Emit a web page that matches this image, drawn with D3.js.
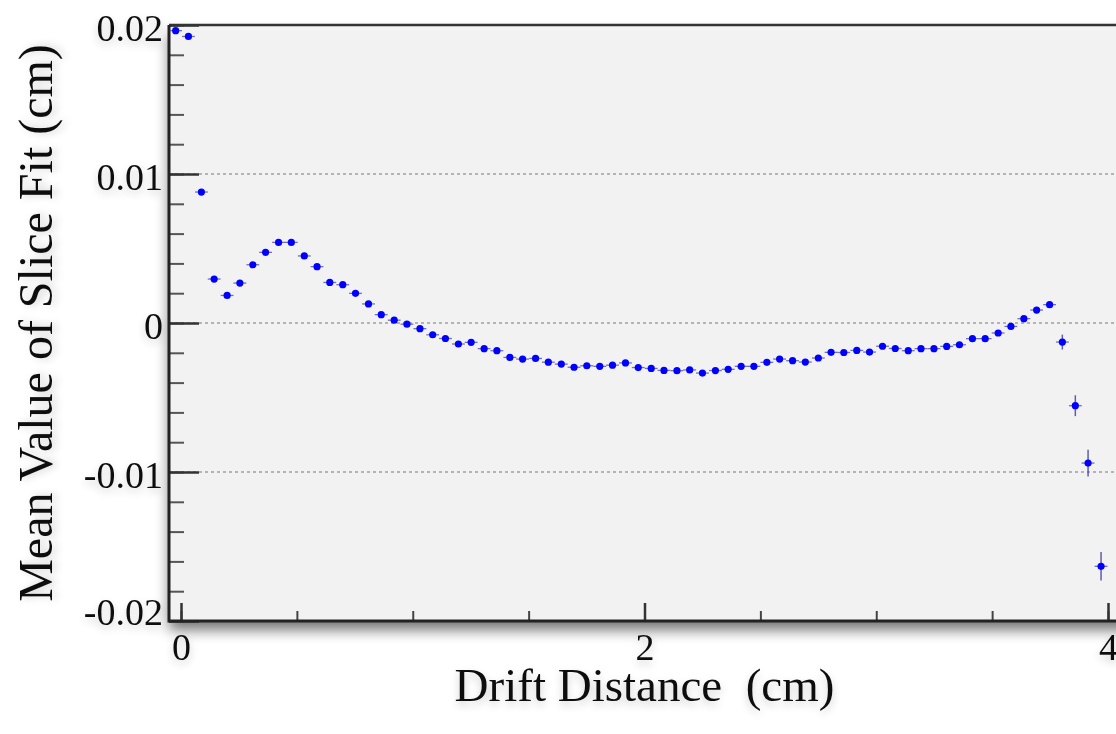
<!DOCTYPE html>
<html>
<head>
<meta charset="utf-8">
<script src="https://cdn.jsdelivr.net/npm/d3@7"></script>
<style>
  body { margin: 0; background: #fff; }
  svg { display: block; font-family: "Liberation Serif", "Times New Roman", serif; }
  .tick-label { font-size: 38px; fill: #111; }
  .axis-title { font-size: 47px; fill: #111; white-space: pre; }
  .grid { stroke: #a0a0a0; stroke-width: 1.5; stroke-dasharray: 3 3; }
</style>
</head>
<body>
<div id="wrapper"></div>
<script>
// bin centres (cm) and fitted slice means (cm)
const driftDistance = [
  -0.023, 0.032, 0.088, 0.143, 0.199, 0.254, 0.310, 0.365, 0.421, 0.476,
  0.532, 0.587, 0.642, 0.698, 0.753, 0.809, 0.864, 0.920, 0.975, 1.031,
  1.086, 1.141, 1.197, 1.252, 1.308, 1.363, 1.419, 1.474, 1.530, 1.585,
  1.641, 1.696, 1.751, 1.807, 1.862, 1.918, 1.973, 2.029, 2.084, 2.140,
  2.195, 2.250, 2.306, 2.361, 2.417, 2.472, 2.528, 2.583, 2.639, 2.694,
  2.750, 2.805, 2.860, 2.916, 2.971, 3.027, 3.082, 3.138, 3.193, 3.249,
  3.304, 3.359, 3.415, 3.470, 3.526, 3.581, 3.637, 3.692, 3.748, 3.803,
  3.859, 3.914, 3.970
]
const meanValue = [
  0.01962, 0.01923, 0.00879, 0.00295, 0.00185, 0.00268, 0.00391, 0.00474, 0.00541, 0.00541,
  0.00450, 0.00378, 0.00272, 0.00257, 0.00199, 0.00128, 0.00056, 0.00019, -0.00008, -0.00038,
  -0.00079, -0.00104, -0.00141, -0.00130, -0.00172, -0.00186, -0.00231, -0.00242, -0.00238, -0.00263,
  -0.00276, -0.00297, -0.00287, -0.00291, -0.00283, -0.00268, -0.00299, -0.00305, -0.00318, -0.00320,
  -0.00315, -0.00336, -0.00319, -0.00311, -0.00291, -0.00291, -0.00264, -0.00242, -0.00253, -0.00262,
  -0.00235, -0.00197, -0.00198, -0.00184, -0.00195, -0.00156, -0.00171, -0.00186, -0.00172, -0.00172,
  -0.00157, -0.00146, -0.00105, -0.00105, -0.00067, -0.00023, 0.00029, 0.00087, 0.00123, -0.00128,
  -0.00555, -0.00940, -0.01633
]
const meanError = [
  0.00008, 0.00008, 0.00006, 0.00004, 0.00004, 0.00004, 0.00004, 0.00004, 0.00004, 0.00004,
  0.00004, 0.00004, 0.00004, 0.00004, 0.00004, 0.00004, 0.00004, 0.00004, 0.00004, 0.00004,
  0.00004, 0.00004, 0.00004, 0.00004, 0.00004, 0.00004, 0.00004, 0.00004, 0.00004, 0.00004,
  0.00004, 0.00004, 0.00004, 0.00004, 0.00004, 0.00004, 0.00004, 0.00004, 0.00004, 0.00004,
  0.00004, 0.00004, 0.00004, 0.00004, 0.00004, 0.00004, 0.00004, 0.00004, 0.00004, 0.00004,
  0.00004, 0.00004, 0.00004, 0.00004, 0.00004, 0.00004, 0.00004, 0.00004, 0.00004, 0.00004,
  0.00004, 0.00006, 0.00006, 0.00006, 0.00008, 0.00008, 0.00010, 0.00015, 0.00020, 0.00050,
  0.00070, 0.00090, 0.00096
]
const binHalfWidth = 0.0277

const yTickValues = [-0.02, -0.01, 0, 0.01, 0.02]
const yTickLabels = ["-0.02", "-0.01", "0", "0.01", "0.02"]
const xTickValues = [0, 2, 4]
const xTickLabels = ["0", "2", "4"]
const gridValues = [-0.01, 0, 0.01]

function drawChart() {

  const dataset = driftDistance.map((x, i) => ({
    x: x, y: meanValue[i], err: meanError[i]
  }))
  const xAccessor = d => d.x
  const yAccessor = d => d.y

  // dimensions
  let dimensions = {
    width: 1116,
    height: 734,
    margin: { top: 25, left: 169, bottom: 113 },
  }
  dimensions.boundedHeight = dimensions.height
    - dimensions.margin.top
    - dimensions.margin.bottom
  // the frame runs past the right edge of the picture
  dimensions.boundedWidth = 970

  const wrapper = d3.select("#wrapper")
    .append("svg")
      .attr("width", dimensions.width)
      .attr("height", dimensions.height)

  const defs = wrapper.append("defs")
  const shadow = defs.append("filter")
      .attr("id", "shadow")
      .attr("x", "-5%").attr("y", "-5%")
      .attr("width", "110%").attr("height", "115%")
  shadow.append("feGaussianBlur")
      .attr("in", "SourceAlpha")
      .attr("stdDeviation", 7)
  shadow.append("feOffset").attr("dy", 9).attr("result", "off")
  shadow.append("feComponentTransfer")
    .append("feFuncA").attr("type", "linear").attr("slope", 0.55)
  const merge = shadow.append("feMerge")
  merge.append("feMergeNode")
  merge.append("feMergeNode").attr("in", "SourceGraphic")

  const textShadow = defs.append("filter")
      .attr("id", "text-shadow")
      .attr("x", "-30%").attr("y", "-30%")
      .attr("width", "160%").attr("height", "180%")
  textShadow.append("feGaussianBlur")
      .attr("in", "SourceAlpha")
      .attr("stdDeviation", 4)
  textShadow.append("feOffset").attr("dy", 4)
  textShadow.append("feComponentTransfer")
    .append("feFuncA").attr("type", "linear").attr("slope", 0.2)
  const merge2 = textShadow.append("feMerge")
  merge2.append("feMergeNode")
  merge2.append("feMergeNode").attr("in", "SourceGraphic")

  const bounds = wrapper.append("g")
      .attr("transform", `translate(${dimensions.margin.left}, ${dimensions.margin.top})`)

  // scales: 0 -> 12px inside the frame, 232px per cm
  const xScale = d3.scaleLinear()
    .domain([-12 / 231.75, (dimensions.boundedWidth - 12) / 231.75])
    .range([0, dimensions.boundedWidth])

  const yScale = d3.scaleLinear()
    .domain([-0.02, 0.02])
    .range([dimensions.boundedHeight, 0])

  // plot background
  bounds.append("rect")
      .attr("width", dimensions.boundedWidth)
      .attr("height", dimensions.boundedHeight)
      .attr("fill", "#f2f2f2")
      .attr("filter", "url(#shadow)")

  // dotted grid
  bounds.append("g")
    .selectAll("line")
    .data(gridValues)
    .join("line")
      .attr("class", "grid")
      .attr("x1", 0)
      .attr("x2", dimensions.boundedWidth)
      .attr("y1", d => yScale(d))
      .attr("y2", d => yScale(d))

  // y axis ticks
  const yMinor = bounds.append("g")
    .call(d3.axisLeft(yScale)
      .tickValues(yScale.ticks(20))
      .tickSize(-15)
      .tickFormat(""))
  yMinor.select(".domain").remove()
  yMinor.selectAll("line").attr("stroke", "#555").attr("stroke-width", 2)

  const yAxis = bounds.append("g")
    .call(d3.axisLeft(yScale)
      .tickValues(yTickValues)
      .tickSize(-30)
      .tickPadding(6)
      .tickFormat((d, i) => yTickLabels[i]))
  yAxis.select(".domain").remove()
  yAxis.selectAll("line").attr("stroke", "#333").attr("stroke-width", 2.5)
  yAxis.selectAll("text")
      .attr("class", "tick-label")
      .attr("dy", d => d == -0.02 ? "0.08em" : "0.4em")
      .attr("filter", "url(#text-shadow)")
  yAxis.attr("font-size", null).attr("font-family", null)

  // x axis ticks
  const xMinor = bounds.append("g")
      .attr("transform", `translate(0, ${dimensions.boundedHeight})`)
    .call(d3.axisBottom(xScale)
      .tickValues(xScale.ticks(8).filter(d => d >= 0))
      .tickSize(-10)
      .tickFormat(""))
  xMinor.select(".domain").remove()
  xMinor.selectAll("line").attr("stroke", "#444").attr("stroke-width", 2)

  const xAxis = bounds.append("g")
      .attr("transform", `translate(0, ${dimensions.boundedHeight})`)
    .call(d3.axisBottom(xScale)
      .tickValues(xTickValues)
      .tickSize(-18)
      .tickPadding(12)
      .tickFormat((d, i) => xTickLabels[i]))
  xAxis.select(".domain").remove()
  xAxis.selectAll("line").attr("stroke", "#333").attr("stroke-width", 2.5)
  xAxis.selectAll("text")
      .attr("class", "tick-label")
      .attr("filter", "url(#text-shadow)")
  xAxis.attr("font-size", null).attr("font-family", null)

  // frame lines
  bounds.append("line")
      .attr("x1", 0).attr("x2", dimensions.boundedWidth)
      .attr("y1", 0).attr("y2", 0)
      .attr("stroke", "#333").attr("stroke-width", 2.5)
  bounds.append("line")
      .attr("x1", 0).attr("x2", dimensions.boundedWidth)
      .attr("y1", dimensions.boundedHeight).attr("y2", dimensions.boundedHeight)
      .attr("stroke", "#222").attr("stroke-width", 3)
  bounds.append("line")
      .attr("x1", 0).attr("x2", 0)
      .attr("y1", 0).attr("y2", dimensions.boundedHeight + 1.5)
      .attr("stroke", "#222").attr("stroke-width", 3)

  // error bars and markers
  const points = bounds.append("g")
    .selectAll("g")
    .data(dataset)
    .join("g")

  points.append("line")
      .attr("x1", d => xScale(xAccessor(d) - binHalfWidth))
      .attr("x2", d => xScale(xAccessor(d) + binHalfWidth))
      .attr("y1", d => yScale(yAccessor(d)))
      .attr("y2", d => yScale(yAccessor(d)))
      .attr("stroke", "#3a3a9a")
      .attr("stroke-opacity", 0.7)
      .attr("stroke-width", 1.3)

  points.append("line")
      .attr("x1", d => xScale(xAccessor(d)))
      .attr("x2", d => xScale(xAccessor(d)))
      .attr("y1", d => yScale(yAccessor(d) - d.err))
      .attr("y2", d => yScale(yAccessor(d) + d.err))
      .attr("stroke", "#3a3a9a")
      .attr("stroke-opacity", 0.8)
      .attr("stroke-width", 1.5)

  points.append("circle")
      .attr("cx", d => xScale(xAccessor(d)))
      .attr("cy", d => yScale(yAccessor(d)))
      .attr("r", 3.6)
      .attr("fill", "#0000ff")

  // axis titles
  wrapper.append("text")
      .attr("class", "axis-title")
      .attr("x", dimensions.margin.left + xScale(2))
      .attr("y", 701)
      .attr("text-anchor", "middle")
      .attr("filter", "url(#text-shadow)")
      .text("Drift Distance  (cm)")

  wrapper.append("text")
      .attr("class", "axis-title")
      .attr("transform", `translate(52, ${dimensions.margin.top + yScale(0)}) rotate(-90)`)
      .attr("text-anchor", "middle")
      .attr("font-size", 48)
      .style("font-size", "48px")
      .attr("filter", "url(#text-shadow)")
      .text("Mean Value of Slice Fit (cm)")
}
drawChart()
</script>
</body>
</html>
